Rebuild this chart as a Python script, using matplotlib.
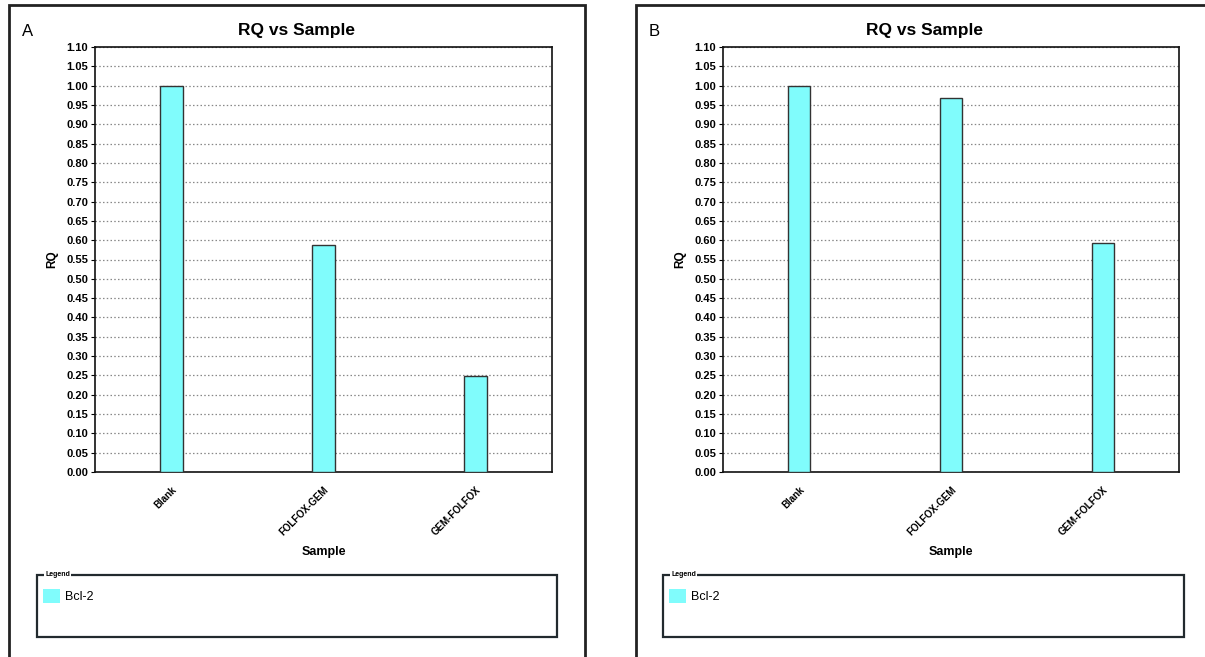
import matplotlib
matplotlib.use("Agg")
import matplotlib.pyplot as plt
from matplotlib.patches import Rectangle, Patch
from matplotlib.transforms import ScaledTranslation
import numpy as np

plt.rcParams['font.family'] = ['Liberation Sans', 'DejaVu Sans']

samples = ["Blank", "FOLFOX-GEM", "GEM-FOLFOX"]
rq_a = [1.00, 0.587, 0.249]
rq_b = [1.00, 0.969, 0.594]
panel_labels = ["A", "B"]
series_name = "Bcl-2"
yticks = np.round(np.arange(0, 1.1001, 0.05), 2)

W, H = 1205, 657
fig = plt.figure(figsize=(W / 100, H / 100), dpi=100)

def fx(px):
    return px / W

def fy(py):
    return 1 - py / H

bar_color = '#80FCFC'

panels = [
    dict(vals=rq_a, label=panel_labels[0], border=(9, 5, 585, 700), ax=(95, 47, 552, 472),
         leg=(37, 575, 557, 637)),
    dict(vals=rq_b, label=panel_labels[1], border=(636, 5, 1225, 700), ax=(723, 47, 1179, 472),
         leg=(663, 575, 1184, 637)),
]

for p in panels:
    bx0, by0, bx1, by1 = p['border']
    fig.patches.append(Rectangle((fx(bx0), fy(by1)), fx(bx1 - bx0), (by1 - by0) / H,
                                 transform=fig.transFigure, fill=False,
                                 edgecolor='#222222', linewidth=2.0))
    fig.text(fx(bx0 + 13), fy(32), p['label'], fontsize=12, ha='left', va='center')
    fig.text(fx((bx0 + min(bx1, 1212)) / 2), fy(31), "RQ vs Sample", fontsize=12.5,
             fontweight='bold', ha='center', va='center')

    x0, y0, x1, y1 = p['ax']
    ax = fig.add_axes([fx(x0), fy(y1), fx(x1 - x0), (y1 - y0) / H])
    x = np.arange(len(samples))
    ax.bar(x, p['vals'], width=0.15, color=bar_color, edgecolor='#333333', linewidth=1.0,
           zorder=3, label=series_name)
    ax.set_xlim(-0.5, len(samples) - 0.5)
    ax.set_ylim(0, 1.10)
    ax.set_yticks(yticks)
    ax.set_yticklabels([f"{v:.2f}" for v in yticks], fontsize=8, fontweight='bold')
    ax.yaxis.grid(True, linestyle=(0, (1.2, 1.8)), color='#888888', linewidth=0.9, zorder=0)
    ax.set_xticks(x)
    ax.set_xticklabels(samples, rotation=45, ha='right', rotation_mode='anchor',
                       fontsize=7, fontweight='bold')
    off = ScaledTranslation(7 / 100, 0, fig.dpi_scale_trans)
    for lab in ax.get_xticklabels():
        lab.set_transform(lab.get_transform() + off)
    ax.tick_params(axis='x', length=0, pad=9)
    ax.tick_params(axis='y', length=3, width=0.8, pad=2)
    for s in ax.spines.values():
        s.set_linewidth(1.2)
        s.set_color('#111111')
    ax.set_ylabel("RQ", fontsize=8.5, fontweight='bold', labelpad=6)
    ax.set_xlabel("Sample", fontsize=9, fontweight='bold')
    ax.xaxis.set_label_coords(0.5, -(552 - y1) / (y1 - y0))
    ax.xaxis.label.set_va('center')

    lx0, ly0, lx1, ly1 = p['leg']
    fig.patches.append(Rectangle((fx(lx0), fy(ly1)), fx(lx1 - lx0), (ly1 - ly0) / H,
                                 transform=fig.transFigure, fill=False,
                                 edgecolor='#222a2e', linewidth=1.6))
    fig.text(fx(lx0 + 8), fy(ly0), "Legend", fontsize=5, fontweight='bold', ha='left',
             va='center', bbox=dict(facecolor='white', edgecolor='none', pad=1))
    handle = Patch(facecolor=bar_color, edgecolor='none', label=series_name)
    fig.legend(handles=[handle], loc='upper left', bbox_to_anchor=(fx(lx0 - 4), fy(ly0 + 4)),
               frameon=False, fontsize=9, handlelength=1.35, handleheight=1.35,
               handletextpad=0.4, borderpad=0.3)

fig.savefig("out.png", dpi=100)
